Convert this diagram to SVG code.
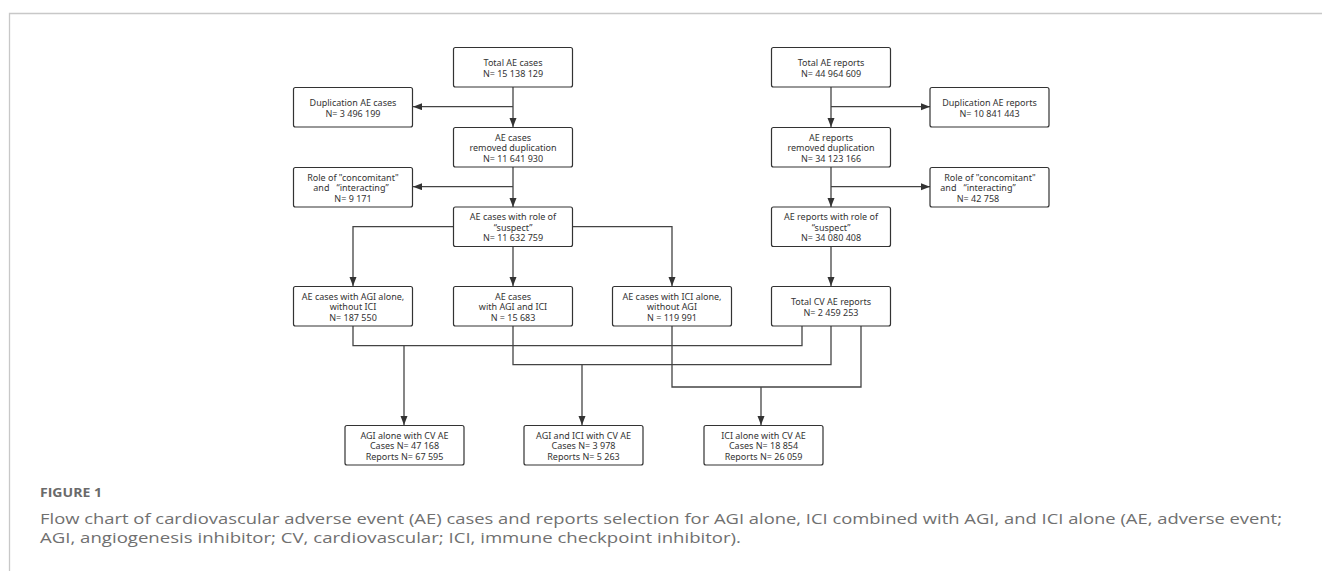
<svg xmlns="http://www.w3.org/2000/svg" width="1322" height="571" viewBox="0 0 1322 571">
<style>
.box{fill:#fff;stroke:#333;stroke-width:1.2}
.t{font-family:"Noto Sans","Open Sans",sans-serif;font-size:9px;fill:#333;text-anchor:middle;white-space:pre}
.c{fill:none;stroke:#444;stroke-width:1.3}
.frame{stroke:#c8c8c8;stroke-width:1.3;fill:none}
.fig{font-family:"Open Sans","Noto Sans",sans-serif;font-size:11.5px;font-weight:700;fill:#6a6a6a}
.cap{font-family:"Open Sans","Noto Sans",sans-serif;font-size:15px;fill:#707070}
</style>
<defs>
<marker id="ah" markerUnits="userSpaceOnUse" markerWidth="10" markerHeight="8" refX="9" refY="3.5" orient="auto">
<path d="M0,0 L9,3.5 L0,7 z" fill="#333"/>
</marker>
</defs>
<rect width="1322" height="571" fill="#fff"/>
<path class="frame" d="M9.5,571 V13.5 H1322"/>

<g id="connectors">
<path class="c" d="M513,87 V127" marker-end="url(#ah)"/>
<path class="c" d="M513,106.7 H413" marker-end="url(#ah)"/>
<path class="c" d="M513,167 V207" marker-end="url(#ah)"/>
<path class="c" d="M513,186.7 H413" marker-end="url(#ah)"/>
<path class="c" d="M453,226.7 H353 V286" marker-end="url(#ah)"/>
<path class="c" d="M513,247 V286" marker-end="url(#ah)"/>
<path class="c" d="M572,226.7 H672 V286" marker-end="url(#ah)"/>
<path class="c" d="M831,87 V127" marker-end="url(#ah)"/>
<path class="c" d="M831,106.7 H930" marker-end="url(#ah)"/>
<path class="c" d="M831,167 V207" marker-end="url(#ah)"/>
<path class="c" d="M831,186.7 H930" marker-end="url(#ah)"/>
<path class="c" d="M831,247 V286" marker-end="url(#ah)"/>
<path class="c" d="M353,326 V345.7 H802 V326"/>
<path class="c" d="M404,345.7 V425" marker-end="url(#ah)"/>
<path class="c" d="M513,326 V364.7 H831 V326"/>
<path class="c" d="M582,364.7 V425" marker-end="url(#ah)"/>
<path class="c" d="M672,326 V387 H861 V326"/>
<path class="c" d="M761,387 V425" marker-end="url(#ah)"/>
</g>

<g id="A1"><rect class="box" x="453.5" y="47.5" width="119" height="39.5" rx="2"/>
<text class="t" x="513" y="66">Total AE cases</text><text class="t" x="513" y="76.5">N= 15 138 129</text></g>
<g id="A2"><rect class="box" x="293.5" y="87.5" width="119" height="39.5" rx="2"/>
<text class="t" x="353" y="106">Duplication AE cases</text><text class="t" x="353" y="116.5">N= 3 496 199</text></g>
<g id="A3"><rect class="box" x="453.5" y="127.5" width="119" height="39.5" rx="2"/>
<text class="t" x="513" y="140.5">AE cases</text><text class="t" x="513" y="151">removed duplication</text><text class="t" x="513" y="161.5">N= 11 641 930</text></g>
<g id="A4"><rect class="box" x="293.5" y="167.5" width="119" height="39.5" rx="2"/>
<text class="t" x="353" y="180.5">Role of "concomitant"</text><text class="t" x="351" y="191">and   “interacting”</text><text class="t" x="353" y="201.5">N= 9 171</text></g>
<g id="A5"><rect class="box" x="453.5" y="207" width="119" height="39.5" rx="2"/>
<text class="t" x="513" y="220">AE cases with role of</text><text class="t" x="513" y="230.5">“suspect”</text><text class="t" x="513" y="241">N= 11 632 759</text></g>
<g id="B1"><rect class="box" x="293.5" y="286.5" width="119" height="39.5" rx="2"/>
<text class="t" x="353" y="299.5">AE cases with AGI alone,</text><text class="t" x="353" y="310">without ICI</text><text class="t" x="353" y="320.5">N= 187 550</text></g>
<g id="B2"><rect class="box" x="453.5" y="286.5" width="119" height="39.5" rx="2"/>
<text class="t" x="513" y="299.5">AE cases</text><text class="t" x="513" y="310">with AGI and ICI</text><text class="t" x="513" y="320.5">N = 15 683</text></g>
<g id="B3"><rect class="box" x="612.5" y="286.5" width="119" height="39.5" rx="2"/>
<text class="t" x="672" y="299.5">AE cases with ICI alone,</text><text class="t" x="672" y="310">without AGI</text><text class="t" x="672" y="320.5">N = 119 991</text></g>

<g id="R1"><rect class="box" x="771.5" y="47.5" width="119" height="39.5" rx="2"/>
<text class="t" x="831" y="66">Total AE reports</text><text class="t" x="831" y="76.5">N= 44 964 609</text></g>
<g id="R2"><rect class="box" x="930" y="87.5" width="119" height="39.5" rx="2"/>
<text class="t" x="989.5" y="106">Duplication AE reports</text><text class="t" x="989.5" y="116.5">N= 10 841 443</text></g>
<g id="R3"><rect class="box" x="771.5" y="127.5" width="119" height="39.5" rx="2"/>
<text class="t" x="831" y="140.5">AE reports</text><text class="t" x="831" y="151">removed duplication</text><text class="t" x="831" y="161.5">N= 34 123 166</text></g>
<g id="R4"><rect class="box" x="930" y="167.5" width="119" height="39.5" rx="2"/>
<text class="t" x="990" y="180.5">Role of "concomitant"</text><text class="t" x="978" y="191">and   “interacting”</text><text class="t" x="978" y="201.5">N= 42 758</text></g>
<g id="R5"><rect class="box" x="771.5" y="207" width="119" height="39.5" rx="2"/>
<text class="t" x="831" y="220">AE reports with role of</text><text class="t" x="831" y="230.5">“suspect”</text><text class="t" x="831" y="241">N= 34 080 408</text></g>
<g id="R6"><rect class="box" x="771.5" y="286.5" width="119" height="39.5" rx="2"/>
<text class="t" x="831" y="305">Total CV AE reports</text><text class="t" x="831" y="315.5">N= 2 459 253</text></g>

<g id="C1"><rect class="box" x="345" y="425.5" width="119" height="39.5" rx="2"/>
<text class="t" x="404.5" y="438.5">AGI alone with CV AE</text><text class="t" x="404.5" y="449">Cases N= 47 168</text><text class="t" x="404.5" y="459.5">Reports N= 67 595</text></g>
<g id="C2"><rect class="box" x="524" y="425.5" width="119" height="39.5" rx="2"/>
<text class="t" x="583.5" y="438.5">AGI and ICI with CV AE</text><text class="t" x="583.5" y="449">Cases N= 3 978</text><text class="t" x="583.5" y="459.5">Reports N= 5 263</text></g>
<g id="C3"><rect class="box" x="704" y="425.5" width="119" height="39.5" rx="2"/>
<text class="t" x="763.5" y="438.5">ICI alone with CV AE</text><text class="t" x="763.5" y="449">Cases N= 18 854</text><text class="t" x="763.5" y="459.5">Reports N= 26 059</text></g>

<text class="fig" x="40" y="497" textLength="62" lengthAdjust="spacingAndGlyphs">FIGURE 1</text>
<text class="cap" x="40" y="523.5" textLength="1242" lengthAdjust="spacingAndGlyphs">Flow chart of cardiovascular adverse event (AE) cases and reports selection for AGI alone, ICI combined with AGI, and ICI alone (AE, adverse event;</text>
<text class="cap" x="40" y="542.5" textLength="701" lengthAdjust="spacingAndGlyphs">AGI, angiogenesis inhibitor; CV, cardiovascular; ICI, immune checkpoint inhibitor).</text>
</svg>
